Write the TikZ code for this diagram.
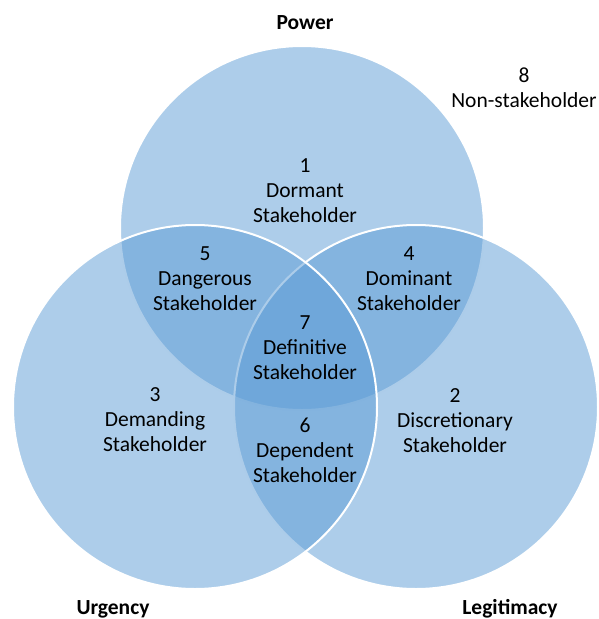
\documentclass[tikz,border=0pt]{standalone}
\usepackage{fontspec}
\setmainfont{Carlito}
\usetikzlibrary{positioning}
\definecolor{vennsin}{RGB}{91,155,213}

\begin{document}
\begin{tikzpicture}[x=1pt, y=-1pt,
                    piiri/.style={fill=vennsin, fill opacity=0.5, draw=white, draw opacity=1, line width=2pt},
                    teksti/.style={align=center, inner sep=0pt, font=\fontsize{21.5}{25}\selectfont},
                    otsikko/.style={inner sep=0pt, font=\fontsize{21.5}{25}\selectfont\bfseries}]

\useasboundingbox (0,0) rectangle (598,619);

% the three sets
\draw[piiri] (302,228) circle[radius=182];
\draw[piiri] (416,407) circle[radius=182];
\draw[piiri] (195,407) circle[radius=182];

\node[otsikko] (Power) at (305,23) {Power};
\node[otsikko] (Urgency) at (113,609) {Urgency};
\node[otsikko] (Legitimacy) at (510,609) {Legitimacy};

\node[teksti] (S8) at (524,88) {8\\Non-stakeholder};
\node[teksti] (S1) at (305,191) {1\\Dormant\\Stakeholder};
\node[teksti] (S5) at (205,279) {5\\Dangerous\\Stakeholder};
\node[teksti] (S4) at (409,279) {4\\Dominant\\Stakeholder};
\node[teksti] (S7) at (305,348) {7\\Definitive\\Stakeholder};
\node[teksti] (S3) at (155,420) {3\\Demanding\\Stakeholder};
\node[teksti] (S2) at (455,421) {2\\Discretionary\\Stakeholder};
\node[teksti] (S6) at (305,450) {6\\Dependent\\Stakeholder};
\end{tikzpicture}
\end{document}
